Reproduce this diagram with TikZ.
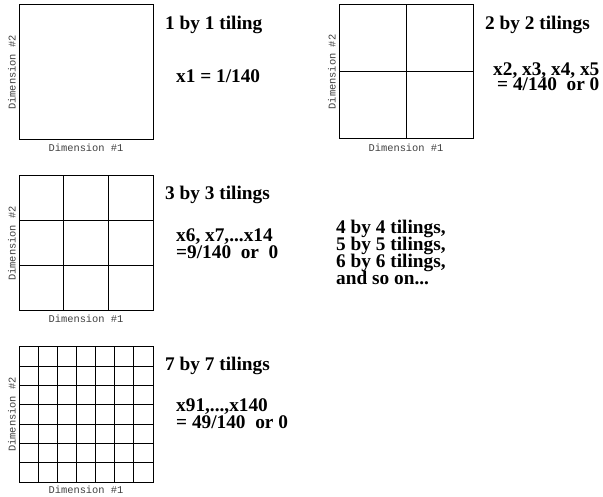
\documentclass[tikz,border=0pt]{standalone}
\usepackage{fontspec}
\setmainfont{Liberation Serif}
\setmonofont{Liberation Mono}
\begin{document}
\begin{tikzpicture}[x=1pt,y=-1pt,
  gridline/.style={line width=1pt,line cap=rect},
  txt/.style={anchor=base west,inner sep=0pt,font=\fontsize{19.3}{17}\selectfont\bfseries},
  dimlab/.style={inner sep=0pt,font=\fontsize{10.4}{12}\selectfont\ttfamily,text=black!75}]
\useasboundingbox (0,0) rectangle (603,497);
% box 1
\draw[gridline] (19,5) rectangle (153,140);
\node[dimlab] (b1x) at (86,148) {Dimension \#1};
\node[dimlab,rotate=90] (b1y) at (12,72.5) {Dimension \#2};
\node[txt] (t1) at (165,29.5) {1 by 1 tiling};
\node[txt] (v1) at (176,83) {x1 = 1/140};
% box 2
\draw[gridline] (339,5) rectangle (473,139);
\draw[gridline] (406,5) -- (406,139);
\draw[gridline] (339,72) -- (473,72);
\node[dimlab] (b2x) at (406,148) {Dimension \#1};
\node[dimlab,rotate=90] (b2y) at (332,72) {Dimension \#2};
\node[txt] (t2) at (485,29.5) {2 by 2 tilings};
\node[txt] (v2a) at (493,76) {x2, x3, x4, x5};
\node[txt] (v2b) at (497,90.5) {= 4/140\ \ or 0};
% box 3
\draw[gridline] (19,176) rectangle (153,311);
\foreach \i in {1,2}{
  \draw[gridline] ({19+\i*134/3},176) -- ({19+\i*134/3},311);
  \draw[gridline] (19,{176+\i*135/3}) -- (153,{176+\i*135/3});
}
\node[dimlab] (b3x) at (86,319) {Dimension \#1};
\node[dimlab,rotate=90] (b3y) at (12,243.5) {Dimension \#2};
\node[txt] (t3) at (165,199.5) {3 by 3 tilings};
\node[txt] (v3a) at (176,242) {x6, x7,...x14};
\node[txt] (v3b) at (176,258.5) {=9/140\ \ or\ \ 0};
% middle text
\node[txt] (m1) at (336,233.5) {4 by 4 tilings,};
\node[txt] (m2) at (336,250.5) {5 by 5 tilings,};
\node[txt] (m3) at (336,267.5) {6 by 6 tilings,};
\node[txt] (m4) at (336,284.5) {and so on...};
% box 4
\draw[gridline] (19,347) rectangle (153,482);
\foreach \i in {1,...,6}{
  \draw[gridline] ({19+\i*134/7},347) -- ({19+\i*134/7},482);
  \draw[gridline] (19,{347+\i*135/7}) -- (153,{347+\i*135/7});
}
\node[dimlab] (b4x) at (86,490) {Dimension \#1};
\node[dimlab,rotate=90] (b4y) at (12,414.5) {Dimension \#2};
\node[txt] (t4) at (165,370.5) {7 by 7 tilings};
\node[txt] (v4a) at (176,411.5) {x91,...,x140};
\node[txt] (v4b) at (176,428) {= 49/140\ \ or 0};
\end{tikzpicture}
\end{document}
